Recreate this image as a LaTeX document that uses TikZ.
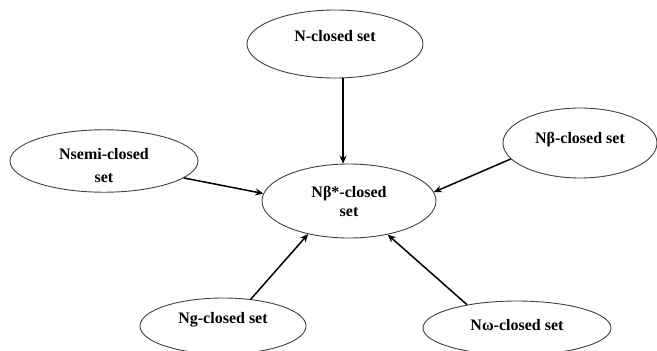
\documentclass[tikz,border=0pt]{standalone}
\usepackage{fontspec}
\setmainfont{Liberation Serif}
\usetikzlibrary{shapes.geometric,arrows.meta}
\begin{document}
\begin{tikzpicture}[x=1pt,y=-1pt,
  setnode/.style={draw=black!75,line width=0.9pt,ellipse,inner sep=0pt,
    font=\fontsize{16}{19}\selectfont\bfseries},
  oneline/.style={setnode,text height=11pt,text depth=#1},
  twoline/.style={setnode,align=center},
  link/.style={line width=1.5pt,-{Stealth[length=8pt,width=7pt]}}]
\useasboundingbox (0,0) rectangle (657,351);
\node[oneline=16pt,minimum width=176pt,minimum height=68pt] (n) at (335,44) {N-closed set};
\node[twoline,minimum width=188pt,minimum height=62pt,font=\fontsize{16}{23}\selectfont\bfseries] (semi) at (104,161) {\rule{0pt}{21pt}Nsemi-closed\\set};
\node[oneline=10pt,minimum width=154pt,minimum height=70pt] (beta) at (580,143) {Nβ-closed set};
\node[twoline,minimum width=174pt,minimum height=74pt] (c) at (349,201) {Nβ*-closed\\set};
\node[oneline=16pt,minimum width=166pt,minimum height=56pt] (ng) at (223,326) {Ng-closed set};
\node[oneline=6pt,minimum width=188pt,minimum height=54pt] (nw) at (517,328) {Nω-closed set};
\draw[link] (n.south -| c.99) -- (c.99);
\draw[link] (semi.-12) -- (c.175);
\draw[link] (beta.193) -- (c.6);
\draw[link] (ng.44) -- (c.219);
\draw[link] (nw.155) -- (c.319);
\end{tikzpicture}
\end{document}
